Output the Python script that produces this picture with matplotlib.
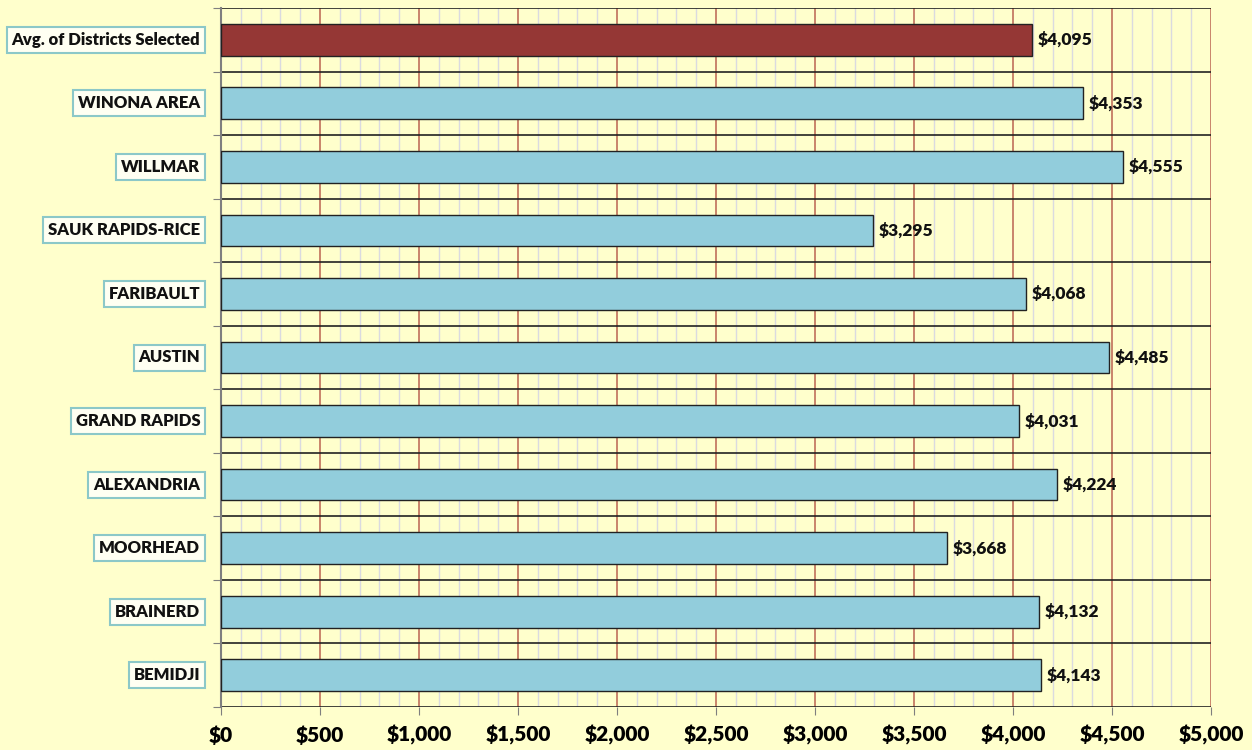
import matplotlib
matplotlib.use("Agg")
import matplotlib.pyplot as plt
from matplotlib.ticker import MultipleLocator, FuncFormatter

districts = ["BEMIDJI", "BRAINERD", "MOORHEAD", "ALEXANDRIA", "GRAND RAPIDS",
             "AUSTIN", "FARIBAULT", "SAUK RAPIDS-RICE", "WILLMAR", "WINONA AREA",
             "Avg. of Districts Selected"]
values = [4143, 4132, 3668, 4224, 4031, 4485, 4068, 3295, 4555, 4353, 4095]
bar_colors = ["#92CDDC"] * 10 + ["#953735"]

bg = "#FFFFCC"
plt.rcParams['font.family'] = ['Lato', 'DejaVu Sans']

fig = plt.figure(figsize=(12.52, 7.5), dpi=100, facecolor=bg)
ax = fig.add_axes([221/1252, 1-707/750, (1211-221)/1252, (707-8)/750])
ax.set_facecolor(bg)

y = list(range(len(districts)))
ax.barh(y, values, height=0.5, color=bar_colors, edgecolor="#222222", linewidth=1, zorder=3)

ax.set_xlim(0, 5000)
ax.set_ylim(-0.5, len(districts) - 0.5)

# gridlines
ax.xaxis.set_major_locator(MultipleLocator(500))
ax.xaxis.set_minor_locator(MultipleLocator(100))
ax.grid(which="minor", axis="x", color="#DADAE0", linewidth=1, zorder=1)
ax.grid(which="major", axis="x", color="#C0705A", linewidth=1.2, zorder=2)
for b in range(len(districts) + 1):
    ax.axhline(b - 0.5, color="#222222", linewidth=1.2, zorder=2)

ax.xaxis.set_major_formatter(FuncFormatter(lambda v, p: f"${v:,.0f}"))
ax.tick_params(axis="x", which="major", length=6, color="#7F7F7F", labelsize=15, pad=7)
ax.tick_params(axis="x", which="minor", length=0)
for lbl in ax.get_xticklabels():
    lbl.set_fontweight("heavy")

ax.set_yticks([b - 0.5 for b in range(len(districts) + 1)])
ax.set_yticklabels([])
ax.tick_params(axis="y", length=6, color="#7F7F7F")

for s in ["bottom", "right", "top"]:
    ax.spines[s].set_visible(False)
ax.spines["left"].set_color("#7F7F7F")
ax.spines["left"].set_linewidth(1.5)

# category labels in boxes
for yi, name in zip(y, districts):
    ax.annotate(name, xy=(0, yi), xytext=(-15, 0), textcoords="offset points",
                ha="right", va="center", fontsize=12, fontweight="heavy", color="#111111",
                bbox=dict(boxstyle="square,pad=0.3", facecolor="#FFFFF2",
                          edgecolor="#8CC8C8", linewidth=1.5),
                annotation_clip=False)

# value labels
for yi, v in zip(y, values):
    ax.annotate(f"${v:,}", xy=(v, yi), xytext=(4, 0), textcoords="offset points",
                ha="left", va="center", fontsize=12.5, fontweight="heavy", color="#111111",
                zorder=5)

fig.savefig("out.png", dpi=100, facecolor=bg)
